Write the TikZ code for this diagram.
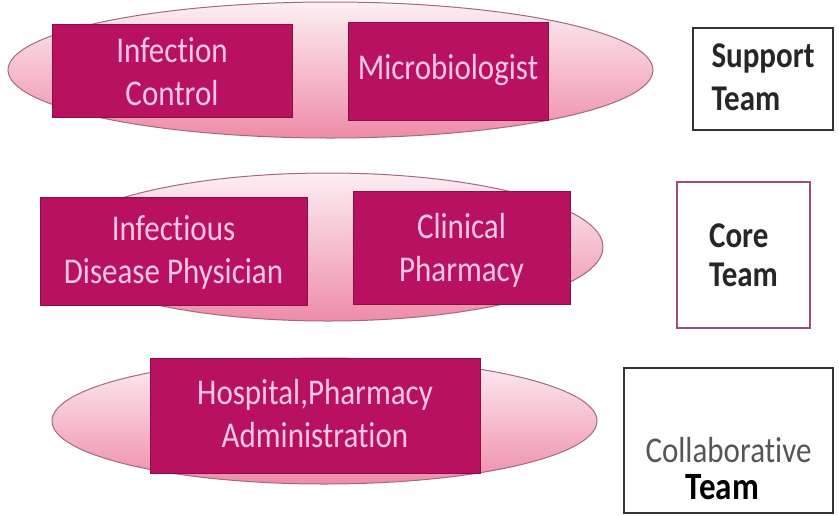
\documentclass[tikz,border=0pt]{standalone}
\usepackage{fontspec}
\setmainfont{Carlito}[Ligatures=NoCommon]
\usetikzlibrary{shapes.geometric}
\definecolor{ovaltop}{HTML}{FDEFF3}
\definecolor{ovalbot}{HTML}{EE8CA8}
\definecolor{ovalline}{HTML}{A4687E}
\definecolor{rolefill}{HTML}{B8115F}
\definecolor{roleline}{HTML}{8C0D48}
\definecolor{roletext}{HTML}{F9C8E4}
\definecolor{boxline}{HTML}{333333}
\definecolor{coreline}{HTML}{A04C7C}
\definecolor{graytext}{HTML}{555555}
% slightly tall lettering, optionally lowered by #1 while keeping its box size
\newcommand\tallrows[2][0pt]{\raisebox{-#1}[\height][\depth]{\scalebox{1}[1.17]{\begin{tabular}{@{}c@{}}#2\end{tabular}}}}
\newcommand\tallrowsl[2][0pt]{\raisebox{-#1}[\height][\depth]{\scalebox{1}[1.17]{\begin{tabular}{@{}l@{}}#2\end{tabular}}}}
\tikzset{
  oval/.style={ellipse, inner sep=0pt, draw=ovalline, line width=1pt,
    top color=ovaltop, bottom color=ovalbot},
  rolebox/.style={rectangle, inner sep=0pt, fill=rolefill, draw=roleline,
    line width=0.8pt, text=roletext, font=\fontsize{31}{37}\selectfont},
  teambox/.style={rectangle, inner sep=0pt, draw=boxline, line width=2pt, fill=white},
  teamtext/.style={inner sep=0pt, font=\bfseries\fontsize{31}{37}\selectfont, text=black!85}
}
\begin{document}
\begin{tikzpicture}[x=1pt,y=-1pt]
\useasboundingbox (0,0) rectangle (839,515);

% support row
\node[oval, minimum width=645, minimum height=136] (ov1) at (330.5,70) {};
\node[rolebox, minimum width=240, minimum height=93] (ic) at (172,70.5)
  {\tallrows[5pt]{Infection\\Control}};
\node[rolebox, minimum width=200, minimum height=98] (mb) at (448,71)
  {\tallrows{Microbiologist}};

% core row
\node[oval, minimum width=550, minimum height=148] (ov2) at (328,247) {};
\node[rolebox, minimum width=267, minimum height=108] (idp) at (173.5,251)
  {\tallrows[2pt]{Infectious\\Disease Physician}};
\node[rolebox, minimum width=217, minimum height=113] (cp) at (461.5,247.5)
  {\tallrows[3.5pt]{Clinical\\Pharmacy}};

% collaborative row
\node[oval, minimum width=545, minimum height=126] (ov3) at (324.5,421) {};
\node[rolebox, minimum width=330, minimum height=115] (hpa) at (315,415.5)
  {\tallrows[2pt]{Hospital,Pharmacy\\Administration}};

% team labels
\node[teambox, minimum width=140, minimum height=102] (st) at (763,79) {};
\node[teamtext] (sttext) at (st.center) {\tallrowsl[1pt]{Support\\Team}};

\node[teambox, draw=coreline, minimum width=133, minimum height=146] (ct) at (743.5,255) {};
\node[teamtext, font=\bfseries\fontsize{31}{34}\selectfont] (cttext) at (ct.center)
  {\tallrowsl[4pt]{Core\\Team}};

\node[teambox, minimum width=209, minimum height=145] (cb) at (728.5,440.5) {};
\node[inner sep=0pt, text=graytext, font=\fontsize{31}{37}\selectfont] (cbtop) at (728.5,450)
  {\scalebox{1}[1.17]{Collaborative}};
\node[inner sep=0pt, text=black, font=\bfseries\fontsize{33}{40}\selectfont] (cbbot) at (722.5,487)
  {\scalebox{1}[1.17]{Team}};
\end{tikzpicture}
\end{document}
